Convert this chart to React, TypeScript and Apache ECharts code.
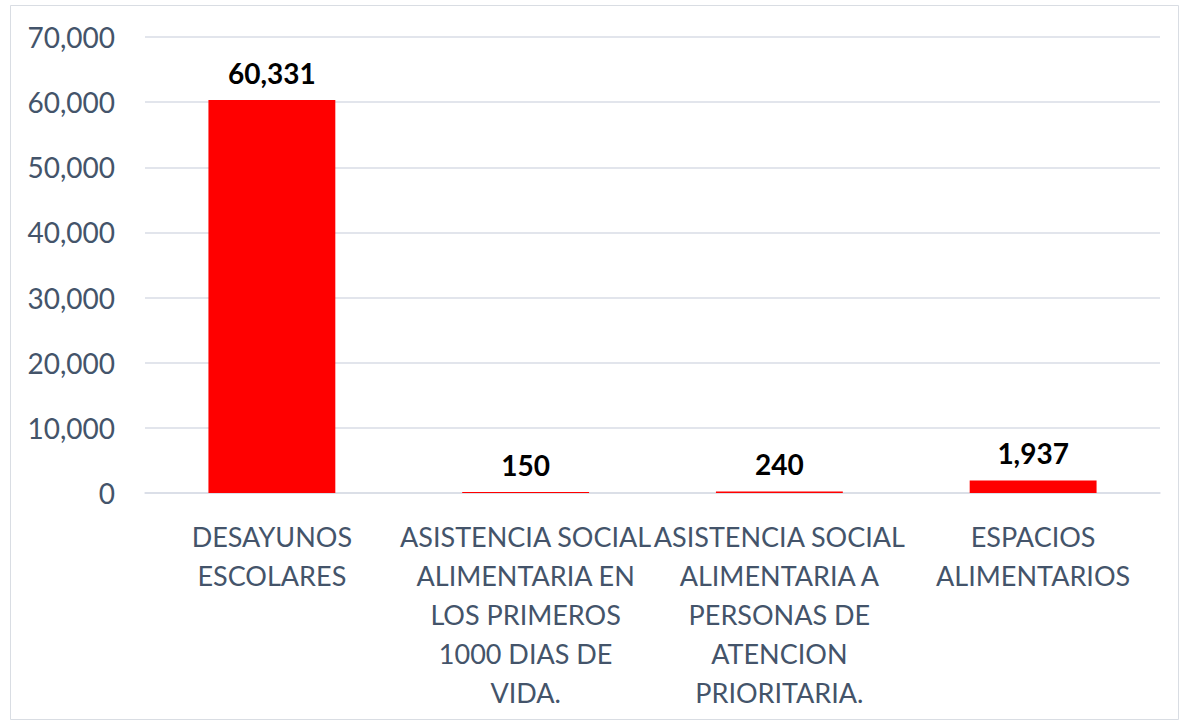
import React, { useEffect, useRef } from "react";
import * as echarts from "echarts";

const categories = [
  "DESAYUNOS\nESCOLARES",
  "ASISTENCIA SOCIAL\nALIMENTARIA EN\nLOS PRIMEROS\n1000 DIAS DE\nVIDA.",
  "ASISTENCIA SOCIAL\nALIMENTARIA A\nPERSONAS DE\nATENCION\nPRIORITARIA.",
  "ESPACIOS\nALIMENTARIOS",
];
const values = [60331, 150, 240, 1937];

const fmt = (v: number) => v.toLocaleString("en-US");
const FONT = "Lato, sans-serif";

export default function App() {
  const ref = useRef<HTMLDivElement>(null);
  useEffect(() => {
    document.body.style.margin = "0";
    const chart = echarts.init(ref.current!, null, { renderer: "svg" });
    chart.setOption({
      animation: false,
      backgroundColor: "#ffffff",
      textStyle: { fontFamily: FONT },
      graphic: [
        {
          type: "rect",
          shape: { x: 10.5, y: 5.5, width: 1168, height: 714 },
          style: { fill: "none", stroke: "#d9dde3", lineWidth: 1 },
          silent: true,
        },
      ],
      grid: { left: 145, right: 20, top: 37, bottom: 228, containLabel: false },
      xAxis: {
        type: "category",
        data: categories,
        axisLine: { show: true, lineStyle: { color: "#d9dde6", width: 1.5 } },
        axisTick: { show: false },
        axisLabel: {
          interval: 0,
          color: "#44546a",
          fontSize: 27,
          lineHeight: 39,
          margin: 24,
          fontFamily: FONT,
        },
      },
      yAxis: {
        type: "value",
        min: 0,
        max: 70000,
        interval: 10000,
        axisLine: { show: false },
        axisTick: { show: false },
        splitLine: { lineStyle: { color: "#d9dde6", width: 1.5 } },
        axisLabel: {
          color: "#44546a",
          fontSize: 28,
          margin: 30,
          fontFamily: FONT,
          formatter: (v: number) => fmt(v),
        },
      },
      series: [
        {
          type: "bar",
          data: values,
          barWidth: "50%",
          itemStyle: { color: "#ff0000" },
          label: {
            show: true,
            position: "top",
            distance: 13,
            color: "#000000",
            fontSize: 28,
            fontWeight: "bold",
            fontFamily: FONT,
            formatter: (p: any) => fmt(p.value),
          },
        },
      ],
    });
    return () => chart.dispose();
  }, []);
  return (
    <div
      ref={ref}
      style={{ position: "absolute", left: 0, top: 0, width: 1180, height: 721 }}
    />
  );
}
